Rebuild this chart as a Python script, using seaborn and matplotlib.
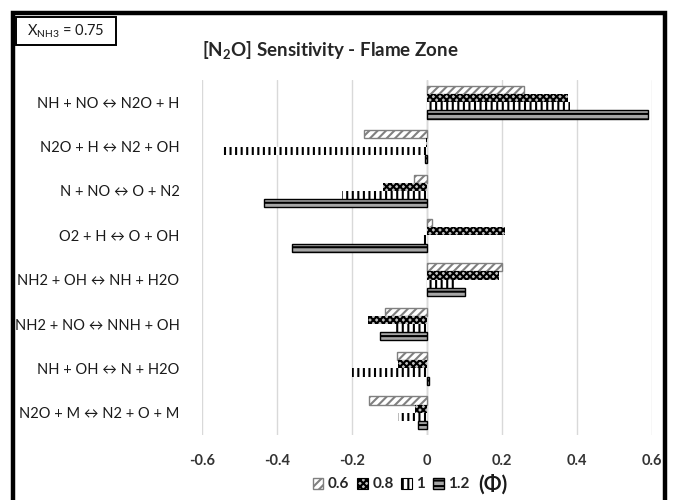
import matplotlib
matplotlib.use("Agg")
import matplotlib.pyplot as plt
import seaborn as sns
import pandas as pd
from matplotlib.patches import Rectangle, Patch

reactions = [
    "NH + NO \u2194 N2O + H",
    "N2O + H \u2194 N2 + OH",
    "N + NO \u2194 O + N2",
    "O2 + H \u2194 O + OH",
    "NH2 + OH \u2194 NH + H2O",
    "NH2 + NO \u2194 NNH + OH",
    "NH + OH \u2194 N + H2O",
    "N2O + M \u2194 N2 + O + M",
]
phi_labels = ["0.6", "0.8", "1", "1.2"]
s_06 = [0.260, -0.167, -0.033, 0.013, 0.202, -0.111, -0.078, -0.154]
s_08 = [0.376, -0.002, -0.117, 0.209, 0.193, -0.156, -0.076, -0.031]
s_10 = [0.382, -0.544, -0.225, -0.010, 0.073, -0.091, -0.200, -0.077]
s_12 = [0.591, -0.004, -0.434, -0.360, 0.102, -0.125, 0.007, -0.022]
xticks = [-0.6, -0.4, -0.2, 0, 0.2, 0.4, 0.6]
xtick_labels = ["-0.6", "-0.4", "-0.2", "0", "0.2", "0.4", "0.6"]

rows = []
for lab, vals in zip(phi_labels, [s_06, s_08, s_10, s_12]):
    for r, v in zip(reactions, vals):
        rows.append({"reaction": r, "phi": lab, "value": v})
df = pd.DataFrame(rows)

sns.set_theme(style="white")
plt.rcParams["font.family"] = ["Lato", "DejaVu Sans"]
plt.rcParams["mathtext.fontset"] = "dejavusans"
plt.rcParams["hatch.linewidth"] = 1.5

fig = plt.figure(figsize=(6.75, 5.0), dpi=100)
ax = fig.add_axes([201.7 / 675, 1 - 435 / 500, 450 / 675, 355 / 500])

sns.barplot(data=df, y="reaction", x="value", hue="phi", hue_order=phi_labels,
            order=reactions, orient="h", width=0.74, gap=0, ax=ax, legend=False,
            saturation=1)

styles = [
    dict(facecolor="white", edgecolor="#808080", hatch="////", lw=1.0),
    dict(facecolor="#bfbfbf", edgecolor="black", hatch="xxxxx", lw=0.0),
    dict(facecolor="white", edgecolor="black", hatch="|||", lw=0.0),
    dict(facecolor="#a6a6a6", edgecolor="black", hatch="---", lw=1.0),
]
for cont, st in zip(ax.containers, styles):
    for p in cont:
        p.set_facecolor(st["facecolor"])
        p.set_edgecolor(st["edgecolor"])
        p.set_hatch(st["hatch"])
        p.set_linewidth(st["lw"])

ax.set_xlim(-0.6, 0.6)
ax.set_xticks(xticks)
ax.set_xticklabels(xtick_labels, fontsize=10.5, fontweight="bold", color="#333333")
ax.tick_params(axis="x", length=0, pad=14)
ax.set_yticks(range(len(reactions)))
ax.set_yticklabels(reactions, fontsize=10.5, color="#1a1a1a")
ax.tick_params(axis="y", length=0, pad=16)
ax.set_xlabel("")
ax.set_ylabel("")
ax.grid(axis="x", color="#d9d9d9", lw=1.0)
ax.set_axisbelow(True)
for s in ax.spines.values():
    s.set_visible(False)
ax.axvline(0, color="#bfbfbf", lw=1.0, zorder=0.5)

# Title
fig.text(0.49, 0.9, "[N$\\mathregular{_2}$O] Sensitivity - Flame Zone", ha="center", va="center",
         fontsize=13.5, fontweight="bold", color="#262626")

# Outer border
fig.patches.append(Rectangle((13 / 675, -0.05), (665 - 13) / 675, 1.05 - 13 / 500,
                             transform=fig.transFigure, fill=False, ec="black", lw=3.2))

# X_NH3 box
fig.patches.append(Rectangle((16 / 675, 1 - 45 / 500), 100 / 675, 28 / 500,
                             transform=fig.transFigure, fill=False, ec="black", lw=1.4))
fig.text(66 / 675, 1 - 31 / 500, "X$\\mathregular{_{NH3}}$ = 0.75", ha="center", va="center",
         fontsize=10.5, color="#1a1a1a")

# Legend
handles = []
for st in styles:
    handles.append(Patch(facecolor=st["facecolor"], edgecolor=st["edgecolor"],
                         hatch=st["hatch"], lw=max(st["lw"], 0.8)))
leg = fig.legend(handles, phi_labels, loc="center left", bbox_to_anchor=(305 / 675, 0.031),
                 ncol=4, frameon=False, handlelength=0.7, handleheight=0.7,
                 handletextpad=0.3, columnspacing=0.5, borderpad=0,
                 prop={"weight": "bold", "size": 11})
fig.text(478 / 675, 0.031, "(\u03a6)", ha="left", va="center", fontsize=15,
         fontweight="bold", color="#1a1a1a")

fig.savefig("out.png", dpi=100)
